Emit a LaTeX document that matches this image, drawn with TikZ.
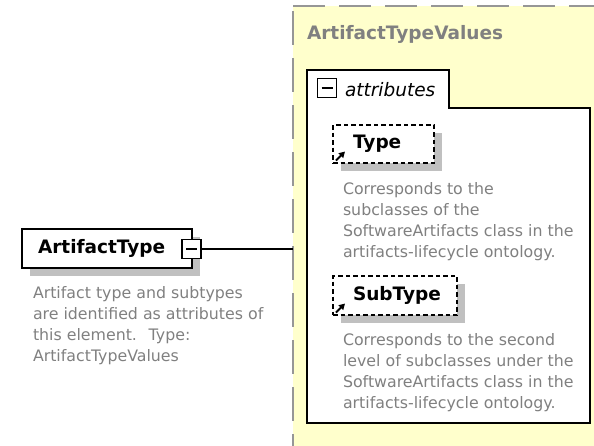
\documentclass[tikz,border=0pt]{standalone}
\usepackage{fontspec}
\setmainfont{DejaVu Sans}
\usetikzlibrary{arrows.meta,calc,shadows}
\definecolor{panelfill}{RGB}{255,255,204}
\definecolor{paneledge}{RGB}{150,150,150}
\definecolor{shadowgray}{RGB}{192,192,192}
\definecolor{notegray}{RGB}{128,128,128}
\begin{document}
\begin{tikzpicture}[x=1pt,y=-1pt,
  every node/.style={inner sep=0pt, outer sep=0pt},
  namefont/.style={font=\fontsize{18.5}{22}\selectfont\bfseries},
  elembox/.style={draw=black, line width=1.7pt, fill=white, namefont, align=left,
    drop shadow={shadow xshift=8pt, shadow yshift=-8pt, fill=shadowgray, opacity=1}},
  attrbox/.style={elembox, line width=1.4pt, dash pattern=on 4.5pt off 3pt},
  note/.style={font=\fontsize{15.8}{21}\selectfont, text=notegray, align=left, anchor=north west},
  minusbox/.style={draw=black, line width=1.4pt, fill=white, minimum size=19pt,
    path picture={\draw[line width=1.4pt]
      ($(path picture bounding box.west)+(4pt,0pt)$) -- ($(path picture bounding box.east)+(-4pt,0pt)$);}},
  panelline/.style={draw=paneledge, line width=2.2pt},
  conn/.style={draw=black, line width=1.6pt},
  refarrow/.style={-{Triangle[length=6pt,width=6.5pt]}, line width=2pt}]

\useasboundingbox (0,0) rectangle (594,445);
\clip (0,0) rectangle (594,445);

% complex type panel
\fill[panelfill] (293,6) rectangle (600,450);
\coordinate (pl) at (293,6);
\draw[panelline, dash pattern=on 32pt off 14pt] (pl) -- (600,6);
\draw[panelline, dash pattern=on 34pt off 13pt, dash phase=42pt] (pl) -- (293,450);
\node[namefont, text=notegray, anchor=base west] (ptitle) at (307,39) {ArtifactTypeValues};

% attribute group with its tab
\draw[line width=1.6pt, fill=white] (307,70) -- (449,70) -- (449,108) -- (590,108)
  -- (590,423) -- (307,423) -- cycle;
\node[minusbox] (gm) at (327,88) {};
\node[font=\fontsize{18.5}{22}\selectfont\itshape, anchor=base west] (gt) at (345,96) {attributes};

% attributes
\node[attrbox, anchor=north west, minimum height=38pt, text width=101pt] (ty) at (333,125)
  {\hspace*{20pt}Type};
\draw[refarrow] ($(ty.south west)+(3,-2.5)$) -- ++(9,-9);
\node[note] (tyn) at (343,182) {Corresponds to the\\subclasses of the\\SoftwareArtifacts class in the\\artifacts-lifecycle ontology.};

\node[attrbox, anchor=north west, minimum height=39pt, text width=124pt] (st) at (333,276)
  {\hspace*{20pt}SubType};
\draw[refarrow] ($(st.south west)+(3,-2.5)$) -- ++(9,-9);
\node[note] (stn) at (343,333) {Corresponds to the second\\level of subclasses under the\\SoftwareArtifacts class in the\\artifacts-lifecycle ontology.};

% element
\node[elembox, anchor=north west, minimum height=39pt, text width=170pt] (at) at (22,229)
  {\hspace*{16pt}ArtifactType};
\node[minusbox] (am) at (191.5,249) {};
\draw[conn] (am.east) -- (am.east -| pl);
\node[note] (atn) at (33,286) {Artifact type and subtypes\\are identified as attributes of\\this element.~ Type:\\ArtifactTypeValues};
\end{tikzpicture}
\end{document}
